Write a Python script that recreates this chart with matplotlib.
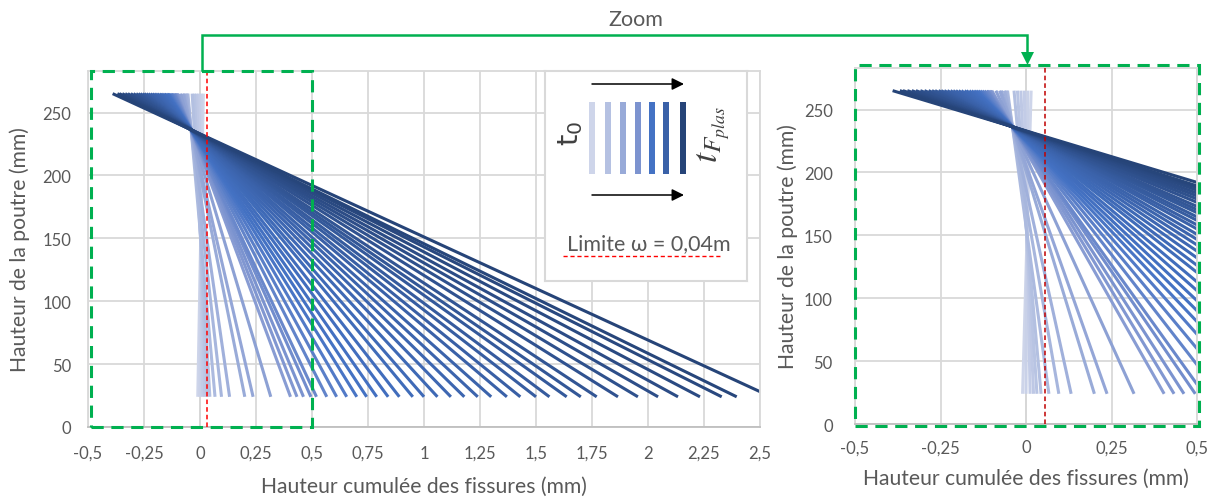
import matplotlib
matplotlib.use('Agg')
import matplotlib.pyplot as plt
from matplotlib.colors import LinearSegmentedColormap
from matplotlib.patches import Rectangle

# ---------------- data ----------------
y_top = 265
y_bottom = 24
# crack profile lines, from t0 (first) to tFplas (last)
x_top = [0.015, 0.005, -0.005, -0.015, -0.025, -0.035,
         -0.054, -0.058, -0.063, -0.072, -0.077, -0.088, -0.100, -0.104, -0.108, -0.112,
         -0.116, -0.122, -0.128, -0.134, -0.140, -0.146, -0.152,
         -0.159, -0.166, -0.174, -0.180, -0.189, -0.197, -0.205, -0.213, -0.221, -0.230,
         -0.239, -0.248, -0.256,
         -0.266, -0.275, -0.285, -0.297, -0.309, -0.322, -0.334, -0.347, -0.360, -0.369, -0.390]
x_bottom = [-0.010, 0.000, 0.012, 0.022, 0.032, 0.044,
            0.067, 0.096, 0.132, 0.200, 0.237, 0.316, 0.404, 0.433, 0.462, 0.495,
            0.520, 0.566, 0.610, 0.655, 0.700, 0.744, 0.789,
            0.840, 0.890, 0.950, 1.000, 1.060, 1.120, 1.180, 1.240, 1.300, 1.370,
            1.430, 1.500, 1.560,
            1.637, 1.700, 1.771, 1.866, 1.955, 2.045, 2.134, 2.232, 2.329, 2.396, 2.550]
limit_left = 0.03
limit_right = 0.057

xticks_left = [-0.5, -0.25, 0, 0.25, 0.5, 0.75, 1, 1.25, 1.5, 1.75, 2, 2.25, 2.5]
xticklabels_left = ['-0,5', '-0,25', '0', '0,25', '0,5', '0,75', '1', '1,25', '1,5',
                    '1,75', '2', '2,25', '2,5']
xticks_right = [-0.5, -0.25, 0, 0.25, 0.5]
xticklabels_right = ['-0,5', '-0,25', '0', '0,25', '0,5']
yticks = [0, 50, 100, 150, 200, 250]
ymax = 283

legend_colors = ['#CED5EA', '#B5C1E2', '#98AAD8', '#7C93CF', '#4472C4', '#3A61A8', '#264478']

# ---------------- style ----------------
W, H = 1217, 502
FONT = ['Lato', 'DejaVu Sans']
plt.rcParams['font.family'] = FONT
TXT = '#595959'
GRID = '#D9D9D9'
GREEN = '#00B050'

cmap = LinearSegmentedColormap.from_list(
    'blues', list(zip([0, 0.1, 0.2, 0.3, 0.45, 0.7, 1.0], legend_colors)))

fig = plt.figure(figsize=(W / 100, H / 100), dpi=100)


def frect(x0, y0, x1, y1):
    return [x0 / W, 1 - y1 / H, (x1 - x0) / W, (y1 - y0) / H]


def style_axes(ax, xticks, xlabels, xlim, ypad, xpad):
    ax.set_xlim(*xlim)
    ax.set_ylim(0, ymax)
    ax.set_xticks(xticks)
    ax.set_xticklabels(xlabels)
    ax.set_yticks(yticks)
    ax.grid(True, color=GRID, lw=1.3, zorder=0)
    ax.set_axisbelow(True)
    for s in ax.spines.values():
        s.set_color(GRID)
        s.set_linewidth(1.3)
    ax.spines['bottom'].set_color('#BFBFBF')
    ax.axvline(0, color='#BFBFBF', lw=1.3, zorder=0.5)
    ax.tick_params(length=0, labelcolor=TXT, labelsize=12)
    ax.tick_params(axis='y', pad=ypad)
    ax.tick_params(axis='x', pad=xpad)


def draw_lines(ax):
    n = len(x_top)
    for i in range(n):
        ax.plot([x_top[i], x_bottom[i]], [y_top, y_bottom], color=cmap(i / (n - 1)),
                lw=2.2, solid_capstyle='butt', zorder=2)


# left chart
ax1 = fig.add_axes(frect(88, 72, 760, 428))
style_axes(ax1, xticks_left, xticklabels_left, (-0.5, 2.5), 12, 13)
draw_lines(ax1)
ax1.axvline(limit_left, color='red', lw=1.1, ls=(0, (3, 2)), zorder=3)
ax1.set_xlabel('Hauteur cumulée des fissures (mm)', color=TXT, fontsize=15.2, labelpad=11)
ax1.set_ylabel('Hauteur de la poutre (mm)', color=TXT, fontsize=15.2, labelpad=9)
ax1.add_patch(Rectangle((-0.488, 0), 0.988, ymax, fill=False, ec=GREEN, lw=2.2,
                        ls=(0, (4, 2.5)), clip_on=False, zorder=5))

# right (zoom) chart
ax2 = fig.add_axes(frect(855, 69, 1197, 425))
style_axes(ax2, xticks_right, xticklabels_right, (-0.5, 0.5), 16, 11)
draw_lines(ax2)
ax2.axvline(limit_right, color='#C00000', lw=1.1, ls=(0, (3, 2)), zorder=3)
ax2.set_xlabel('Hauteur cumulée des fissures (mm)', color=TXT, fontsize=15.2, labelpad=9)
ax2.set_ylabel('Hauteur de la poutre (mm)', color=TXT, fontsize=15.2, labelpad=4)
ax2.add_patch(Rectangle((-0.0, -0.005), 1.005, 1.013, transform=ax2.transAxes, fill=False,
                        ec=GREEN, lw=2.2, ls=(0, (4, 2.5)), clip_on=False, zorder=5))

# legend box
leg = fig.add_axes(frect(545, 72, 747, 282), zorder=6)
leg.set_xlim(545, 747)
leg.set_ylim(282, 72)
leg.set_xticks([])
leg.set_yticks([])
for s in leg.spines.values():
    s.set_color(GRID)
    s.set_linewidth(1.5)
bar_x = [592, 608, 623, 638, 652, 666, 683]
for bx, c in zip(bar_x, legend_colors):
    leg.add_patch(Rectangle((bx - 3, 103), 6, 72, color=c, lw=0))
for yy in (85, 196):
    leg.annotate('', xy=(684, yy), xytext=(592, yy),
                 arrowprops=dict(arrowstyle='-|>', color='black', lw=1.1,
                                 mutation_scale=18, shrinkA=0, shrinkB=0))
leg.text(571, 133, r'$\mathrm{t}_0$', rotation=90, fontsize=21, color='#404040',
         ha='center', va='center', math_fontfamily='dejavusans')
leg.text(714, 135, r'$t_{F_{plas}}$', rotation=90, fontsize=26, color='#404040',
         ha='center', va='center', math_fontfamily='stix')
leg.text(649, 244, 'Limite ω = 0,04m', fontsize=15.5, color=TXT, ha='center', va='center')
leg.plot([563, 720], [257, 257], color='red', lw=1, ls=(0, (3, 2)))

# zoom connector
ov = fig.add_axes([0, 0, 1, 1], zorder=10)
ov.set_xlim(0, W)
ov.set_ylim(H, 0)
ov.axis('off')
ov.patch.set_alpha(0)
ov.plot([202, 202, 1027, 1027], [71, 36, 36, 55], color=GREEN, lw=1.8,
        solid_joinstyle='miter')
ov.fill([1021, 1034, 1027.5], [53, 53, 66], color=GREEN, lw=0)
ov.text(636, 20, 'Zoom', fontsize=15.5, color=TXT, ha='center', va='center')

fig.savefig('out.png', dpi=100)
